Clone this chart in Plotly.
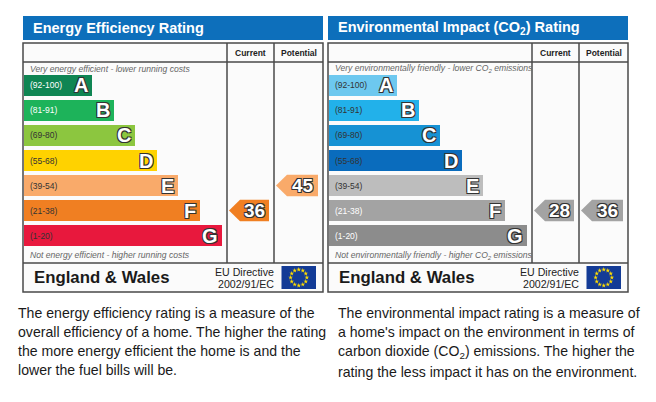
import math
import plotly.graph_objects as go

# ---- data ----
bands = ['A', 'B', 'C', 'D', 'E', 'F', 'G']
band_ranges = ['(92-100)', '(81-91)', '(69-80)', '(55-68)', '(39-54)', '(21-38)', '(1-20)']
band_low = [92, 81, 69, 55, 39, 21, 1]

ee_colors = ['#0f8553', '#1db35a', '#8cc63f', '#ffd200', '#f9aa6a', '#f07f22', '#e8183d']
ee_range_font = ['white', 'white', '#333333', '#333333', '#333333', '#333333', '#333333']
ee_current = 36
ee_potential = 45

ei_colors = ['#6dc8ef', '#22b1ea', '#1692d4', '#0a6cbd', '#bdbdbd', '#a3a3a3', '#8c8c8c']
ei_range_font = ['#333333', '#333333', '#333333', '#333333', '#333333', 'white', 'white']
ei_current = 28
ei_potential = 36

titles = ['Energy Efficiency Rating', 'Environmental Impact (CO<sub>2</sub>) Rating']
top_notes = ['Very energy efficient - lower running costs',
             'Very environmentally friendly - lower CO<sub>2</sub> emissions']
bottom_notes = ['Not energy efficient - higher running costs',
                'Not environmentally friendly - higher CO<sub>2</sub> emissions']

para_left = ['The energy efficiency rating is a measure of the',
             'overall efficiency of a home. The higher the rating',
             'the more energy efficient the home is and the',
             'lower the fuel bills will be.']
para_right = ['The environmental impact rating is a measure of',
              "a home's impact on the environment in terms of",
              'carbon dioxide (CO<sub>2</sub>) emissions. The higher the',
              'rating the less impact it has on the environment.']

# the page body has an 8px margin, so the figure is drawn 8px in from the corner
OFF = 8
W, H = 656 - 2 * OFF, 402 - 2 * OFF
FONT = 'Arial, Liberation Sans, sans-serif'
OUTLINE = '-1px -1px 0 #333, 1px -1px 0 #333, -1px 1px 0 #333, 1px 1px 0 #333'
BLUE = '#0d6fbb'


def px(p):
    return (p - OFF) / W


def py(p):
    return 1 - (p - OFF) / H


def band_of(rating):
    for i, lo in enumerate(band_low):
        if rating >= lo:
            return i
    return len(band_low) - 1


fig = go.Figure()
shapes = []
annos = []

panels = [
    (23, ee_colors, ee_range_font, ee_current, ee_potential),
    (328, ei_colors, ei_range_font, ei_current, ei_potential),
]

for k, (ox, colors, rfont, cur, pot) in enumerate(panels):
    xa = 'x' if k == 0 else 'x%d' % (k * 2 + 1)
    ya = 'y' if k == 0 else 'y%d' % (k * 2 + 1)
    fxa = 'x%d' % (k * 2 + 2)
    fya = 'y%d' % (k * 2 + 2)

    lengths = [68 + 21.6 * i for i in range(len(bands))]
    idx = list(range(len(bands)))

    fig.add_trace(go.Bar(x=lengths, y=idx, base=1, orientation='h', width=0.84,
                         marker=dict(color=colors, line=dict(width=0)),
                         hoverinfo='skip', xaxis=xa, yaxis=ya))
    for i in idx:
        # band letter at the end of the bar, range label at its start
        annos.append(dict(text=bands[i], x=1 + lengths[i] - 2, y=i, xref=xa, yref=ya,
                          xanchor='right', yanchor='middle', showarrow=False,
                          font=dict(family=FONT, size=20, color='white', weight='bold',
                                    shadow=OUTLINE)))
        annos.append(dict(text=band_ranges[i], x=5, y=i, xref=xa, yref=ya,
                          xanchor='left', yanchor='middle', showarrow=False,
                          font=dict(family=FONT, size=8.5, color=rfont[i])))

    # current / potential arrows
    for val, cl, cr in [(cur, 204, 251), (pot, 251, 300)]:
        r = band_of(val)
        xs = [cl + 2, cl + 13, cr - 5, cr - 5, cl + 13, cl + 2]
        ys = [r, r - 0.43, r - 0.43, r + 0.43, r + 0.43, r]
        fig.add_trace(go.Scatter(x=xs, y=ys, fill='toself', fillcolor=colors[r],
                                 mode='lines', line=dict(width=0), hoverinfo='skip',
                                 xaxis=xa, yaxis=ya))
        annos.append(dict(text=str(val), x=(cl + 13 + cr - 5) / 2, y=r, xref=xa, yref=ya,
                          xanchor='center', yanchor='middle', showarrow=False,
                          font=dict(family=FONT, size=19, color='white', weight='bold',
                                    shadow=OUTLINE)))

    # EU flag stars
    ang = [math.pi / 2 - i * math.pi / 6 for i in range(12)]
    fig.add_trace(go.Scatter(x=[0.8 * math.cos(a) for a in ang],
                             y=[0.8 * math.sin(a) for a in ang], mode='markers',
                             marker=dict(symbol='star', size=3.5, color='#ffdd00'),
                             hoverinfo='skip', xaxis=fxa, yaxis=fya))

    sfx = '' if k == 0 else str(k * 2 + 1)
    fig.update_layout(**{
        'xaxis' + sfx: dict(domain=[px(ox), px(ox + 300)], range=[0, 300], visible=False,
                            fixedrange=True, anchor='y' + sfx),
        'yaxis' + sfx: dict(domain=[py(292), py(16)],
                            range=[(292 - 85.5) / 25, (16 - 85.5) / 25],
                            visible=False, fixedrange=True, anchor='x' + sfx),
        'xaxis%d' % (k * 2 + 2): dict(domain=[px(ox + 258.5), px(ox + 293)],
                                      range=[-1.7, 1.7], visible=False,
                                      anchor='y%d' % (k * 2 + 2)),
        'yaxis%d' % (k * 2 + 2): dict(domain=[py(289), py(266)], range=[-1.15, 1.15],
                                      visible=False, anchor='x%d' % (k * 2 + 2)),
    })

    # frame, title bar, grid lines
    L, R = ox, ox + 300
    shapes += [
        dict(type='rect', xref='paper', yref='paper', x0=px(L), x1=px(R), y0=py(40), y1=py(16),
             fillcolor=BLUE, line=dict(width=0), layer='below'),
        dict(type='rect', xref='paper', yref='paper', x0=px(L), x1=px(R), y0=py(292), y1=py(43),
             fillcolor='#fbfbfb', line=dict(color='#4a4a4a', width=1.5), layer='below'),
        dict(type='line', xref='paper', yref='paper', x0=px(L), x1=px(R), y0=py(62), y1=py(62),
             line=dict(color='#4a4a4a', width=1.5)),
        dict(type='line', xref='paper', yref='paper', x0=px(L), x1=px(R), y0=py(263), y1=py(263),
             line=dict(color='#4a4a4a', width=1.5)),
        dict(type='line', xref='paper', yref='paper', x0=px(L + 204), x1=px(L + 204),
             y0=py(43), y1=py(263), line=dict(color='#4a4a4a', width=1.5)),
        dict(type='line', xref='paper', yref='paper', x0=px(L + 251), x1=px(L + 251),
             y0=py(43), y1=py(263), line=dict(color='#4a4a4a', width=1.5)),
        dict(type='rect', xref='paper', yref='paper', x0=px(L + 258.5), x1=px(L + 293),
             y0=py(289), y1=py(266), fillcolor='#133b96', line=dict(width=0), layer='below'),
    ]

    def note(text, x, y, size, color='#222', anchor='left', bold=False, italic=False):
        annos.append(dict(text=text, x=px(x), y=py(y), xref='paper', yref='paper',
                          xanchor=anchor, yanchor='middle', showarrow=False,
                          font=dict(family=FONT, size=size, color=color,
                                    weight='bold' if bold else 'normal',
                                    style='italic' if italic else 'normal')))

    note(titles[k], L + 8, 28.5, 14.5, color='white', bold=True)
    note('Current', L + 227.5, 53, 8.5, anchor='center', bold=True)
    note('Potential', L + 275.5, 53, 8.5, anchor='center', bold=True)
    note(top_notes[k], L + 5, 68.5, 8.6, color='#666', italic=True)
    note(bottom_notes[k], L + 5, 255, 8.6, color='#666', italic=True)
    note('England & Wales', L + 8.5, 277.5, 16.8, color='#1a1a1a', bold=True)
    note('EU Directive', L + 253, 271.5, 10.6, color='#222', anchor='right')
    note('2002/91/EC', L + 253, 284, 10.6, color='#222', anchor='right')

for i, line in enumerate(para_left):
    annos.append(dict(text=line, x=px(16), y=py(312.5 + 19.3 * i), xref='paper', yref='paper',
                      xanchor='left', yanchor='middle', showarrow=False,
                      font=dict(family=FONT, size=14.1, color='#1a1a1a')))
for i, line in enumerate(para_right):
    annos.append(dict(text=line, x=px(336), y=py(312.5 + 19.8 * i), xref='paper', yref='paper',
                      xanchor='left', yanchor='middle', showarrow=False,
                      font=dict(family=FONT, size=14.1, color='#1a1a1a')))

fig.update_layout(width=W, height=H, margin=dict(l=0, r=0, t=0, b=0),
                  paper_bgcolor='white', plot_bgcolor='rgba(0,0,0,0)',
                  showlegend=False, shapes=shapes, annotations=annos, bargap=0)

fig.write_html('out.html')
